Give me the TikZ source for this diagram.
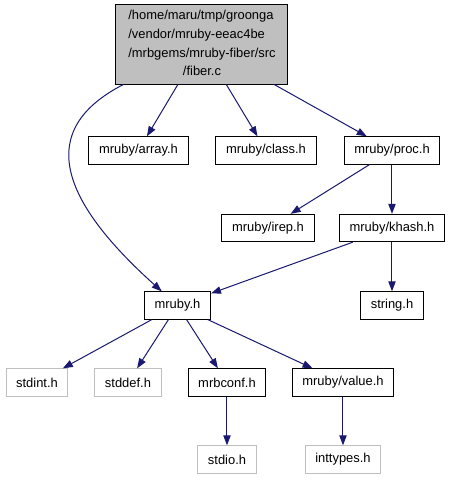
\documentclass[tikz,border=0pt]{standalone}
\usepackage{fontspec}
\setmainfont{Liberation Sans}
\usetikzlibrary{arrows.meta, positioning}
\definecolor{edgeblue}{RGB}{25,25,112}
\definecolor{sysgray}{RGB}{191,191,191}

\begin{document}
\begin{tikzpicture}[x=0.75pt, y=-0.75pt,
    hdr/.style={draw, rectangle, line width=0.75pt, minimum height=20.5pt, inner xsep=7.6pt, inner ysep=1pt, font=\fontsize{9.7}{12}\selectfont},
    mainh/.style={hdr, fill=sysgray, minimum width=129pt, minimum height=60pt, font=\fontsize{9.7}{14}\selectfont},
    sysh/.style={hdr, draw=sysgray},
    arr/.style={-{Triangle[length=7.5pt, width=5.5pt]}, draw=edgeblue, line width=0.75pt}]
    \useasboundingbox (0,0) rectangle (451,480);
    \node[mainh] (fiber) at (202,44) {\begin{tabular}{@{}l@{}}/home/maru/tmp/groonga\\/vendor/mruby-eeac4be\\/mrbgems/mruby-fiber/src\\\multicolumn{1}{@{}c@{}}{/fiber.c}\end{tabular}};
    \node[hdr] (array) at (138.5,150.5) {mruby/array.h};
    \node[hdr] (class) at (266,150.5) {mruby/class.h};
    \node[hdr] (proc) at (392,150.5) {mruby/proc.h};
    \node[hdr] (irep) at (268,228) {mruby/irep.h};
    \node[hdr] (khash) at (392,228) {mruby/khash.h};
    \node[hdr] (mruby) at (177.5,305.5) {mruby.h};
    \node[hdr] (string) at (392,305.5) {string.h};
    \node[sysh] (stdint) at (37,382.5) {stdint.h};
    \node[sysh] (stddef) at (128,382.5) {stddef.h};
    \node[hdr] (mrbconf) at (227,382.5) {mrbconf.h};
    \node[hdr] (value) at (343,382.5) {mruby/value.h};
    \node[sysh] (stdio) at (227,459.5) {stdio.h};
    \node[sysh] (inttypes) at (343,459.5) {inttypes.h};
    \draw[arr] (fiber) .. controls (35,130) and (60,200) .. (mruby);
    \draw[arr] (fiber) -- (array);
    \draw[arr] (fiber) -- (class);
    \draw[arr] (fiber) -- (proc);
    \draw[arr] (proc) -- (irep);
    \draw[arr] (proc) -- (khash);
    \draw[arr] (khash) -- (mruby);
    \draw[arr] (khash) -- (string);
    \draw[arr] (mruby) -- (stdint);
    \draw[arr] (mruby) -- (stddef);
    \draw[arr] (mruby) -- (mrbconf);
    \draw[arr] (mruby) -- (value);
    \draw[arr] (mrbconf) -- (stdio);
    \draw[arr] (value) -- (inttypes);
  \end{tikzpicture}
\end{document}
